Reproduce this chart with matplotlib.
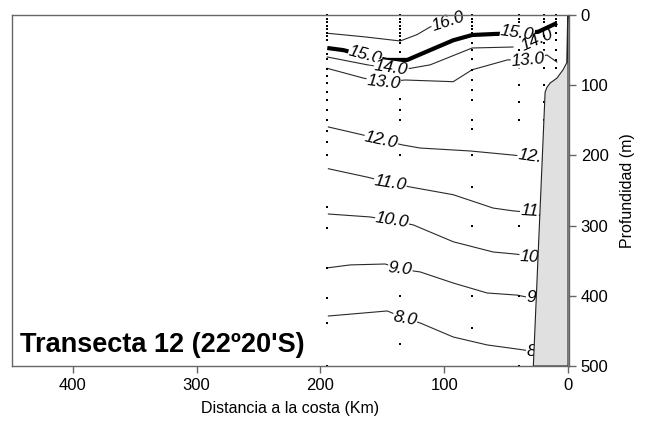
import matplotlib
matplotlib.use('Agg')
import matplotlib.pyplot as plt

plt.rcParams['font.family'] = ['Liberation Sans', 'DejaVu Sans']

# ---- data ----
station_km = [194.4, 135.5, 77.4, 39.5, 19.4, 10.0]
station_depths = [
    [0, 5, 10, 15, 20, 25, 30, 35, 55, 63, 77, 87, 97, 110, 121, 136, 150, 165, 181, 200, 273, 303, 361, 403, 439, 500],
    [0, 5, 10, 15, 20, 25, 30, 35, 40, 52, 65, 95, 120, 135, 150, 200, 250, 300, 400, 468],
    [0, 5, 10, 15, 20, 25, 40, 50, 62, 78, 93, 107, 121, 150, 163, 200, 245, 300, 400, 446],
    [0, 5, 10, 50, 64, 76, 100, 124, 150, 300, 400, 500],
    [0, 5, 10, 20, 30, 40, 50, 64, 76, 100, 124, 150, 160],
    [0, 5, 10, 15, 25, 35, 50, 64, 76],
]

t16_km = [194.4, 165, 135.5, 122, 111.3, 97, 83]
t16_depth = [26, 31, 37, 28, 17, 7, 0]
t15_km = [194.4, 181.5, 163.7, 146, 129.8, 111.3, 92.7, 77.4, 58.9, 41, 24.2, 8.9]
t15_depth = [47, 50, 58, 64, 64, 50, 36, 28.5, 27, 26, 24, 11.4]
t14_km = [194.4, 162, 143, 127.4, 111.3, 77.4, 44.4]
t14_depth = [59.8, 71, 75.5, 76, 71, 47, 45.6]
t13_km = [194.4, 165, 149, 131.5, 92.7, 77.4, 49, 32, 17, 9]
t13_depth = [76, 90, 95.4, 92.6, 95, 78, 64, 63, 57, 67]
t12_km = [193.5, 165.3, 150.8, 133.9, 119.4, 79, 45.2, 31.5, 15]
t12_depth = [159.5, 171, 178, 185, 189.5, 193.7, 199.4, 202, 205]
t11_km = [193.5, 162, 143.5, 127.4, 92.7, 60.5, 44.4, 31.5, 15]
t11_depth = [219, 231, 239, 245, 256, 275, 279, 281, 283]
t10_km = [193.5, 159.7, 142, 125, 92.7, 60.5, 42.7, 31.5, 15]
t10_depth = [283.5, 287.7, 293, 299, 323, 337.6, 340.5, 343, 345]
t9_km = [193.5, 175.8, 147.6, 135.5, 119.4, 92.7, 65.3, 41.1, 30, 15]
t9_depth = [360, 356, 354.7, 362, 366, 381.8, 396, 399, 403, 405]
t8_km = [193.5, 146, 131.5, 119.4, 92.7, 65.3, 36.3, 30, 15]
t8_depth = [428.8, 421.6, 432, 438.7, 458.7, 470, 477, 479, 481]

# label text, km, depth
label_text = ['16.0', '15.0', '14.0', '13.0', '12.0', '11.0', '10.0', '9.0', '8.0',
              '15.0', '13.0', '12.0', '11.0', '10.0', '9.0', '8.0']
label_km = [97, 163.7, 142.7, 149, 150.8, 143.5, 142, 135.5, 131.5,
            41, 32.3, 27.0, 25.4, 25.4, 23.8, 23.8]
label_depth = [9, 57, 76, 96, 178, 239, 293, 362, 432,
               26, 64, 202, 280, 345, 403, 479]
label_rot = [18, -15, -8, -6, -12, -9, -9, -6, -10,
             -8, 5, -8, -3, -3, 0, 0]
label14_right = ('14.0', 25, 36, 24)

shelf_km = [0, 0.3, 1, 4, 9, 14.5, 17, 18.5, 28, 0]
shelf_depth = [0, 7, 68, 78, 90, 97, 103, 110, 500, 500]

# ---- figure ----
fig = plt.figure(figsize=(6.52, 4.28), dpi=100)
ax = fig.add_axes([12/652, 1-366/428, 557/652, 351/428])
ax.set_xlim(449, -0.8)
ax.set_ylim(500, 0)

thin = dict(color='#2a2a2a', lw=0.8, zorder=2)
for k, d in [(t16_km, t16_depth), (t14_km, t14_depth), (t13_km, t13_depth),
             (t12_km, t12_depth), (t11_km, t11_depth), (t10_km, t10_depth),
             (t9_km, t9_depth), (t8_km, t8_depth)]:
    ax.plot(k, d, **thin)
ax.plot(t15_km, t15_depth, color='black', lw=3, zorder=2, solid_capstyle='butt')

for k, deps in zip(station_km, station_depths):
    ax.plot([k]*len(deps), deps, ls='none', marker='s', ms=1.9, color='black',
            markeredgewidth=0, zorder=3, clip_on=False)

lab_fs = 12.5
for t, k, d, r in zip(label_text, label_km, label_depth, label_rot):
    ax.text(k, d, t, ha='center', va='center', rotation=r, rotation_mode='anchor',
            fontsize=lab_fs, style='italic', zorder=4,
            bbox=dict(facecolor='white', edgecolor='none', pad=0.3))
t, k, d, r = label14_right
ax.text(k, d, t, ha='center', va='center', rotation=r, rotation_mode='anchor',
        fontsize=lab_fs, style='italic', zorder=4.5)

ax.fill(shelf_km, shelf_depth, facecolor='#e0e0e0', edgecolor='#222222', lw=0.8, zorder=5)

ax.text(8/557, 0.06, "Transecta 12 (22º20'S)", transform=ax.transAxes,
        ha='left', va='center', fontsize=19.5, fontweight='bold', zorder=6)

ax.set_xticks([400, 300, 200, 100, 0])
ax.set_yticks([0, 100, 200, 300, 400, 500])
ax.yaxis.tick_right()
ax.yaxis.set_label_position('right')
ax.tick_params(direction='out', length=5, color='#666666', labelsize=12, width=1)
ax.set_xlabel('Distancia a la costa (Km)', fontsize=11.5, labelpad=6)
ax.set_ylabel('Profundidad (m)', fontsize=11.5, labelpad=8)
for s in ax.spines.values():
    s.set_color('#666666')
    s.set_linewidth(1)
    s.set_zorder(7)

fig.savefig('out.png', dpi=100)
